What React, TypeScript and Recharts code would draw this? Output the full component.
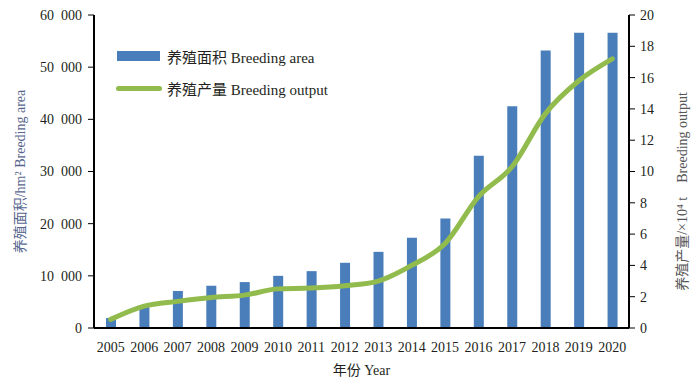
import { Bar, ComposedChart, Legend, Line, XAxis, YAxis } from 'recharts';

const years = ['2005', '2006', '2007', '2008', '2009', '2010', '2011', '2012', '2013', '2014', '2015', '2016', '2017', '2018', '2019', '2020'];
const areaValues = [1900, 4100, 7100, 8100, 8800, 10000, 10900, 12500, 14600, 17300, 21000, 33000, 42500, 53200, 56600, 56600];
const outputValues = [0.55, 1.4, 1.7, 1.95, 2.1, 2.5, 2.55, 2.7, 3.0, 4.0, 5.4, 8.4, 10.3, 13.7, 15.8, 17.2];
const areaTicks = [0, 10000, 20000, 30000, 40000, 50000, 60000];
const outputTicks = [0, 2, 4, 6, 8, 10, 12, 14, 16, 18, 20];

const data = years.map((year, i) => ({ year, area: areaValues[i], output: outputValues[i] }));

const font = "'Liberation Serif', 'Times New Roman', 'Noto Sans CJK SC', serif";
const barColor = '#4a7ebb';
const lineColor = '#92bb4d';
const ink = '#231f20';

const fmtArea = (v: number) => (v === 0 ? '0' : `${v / 1000}\u2002000`);

function LegendBox(props: any) {
  const items = [...(props.payload || [])].sort((a: any, b: any) => (a.type === 'line' ? 1 : 0) - (b.type === 'line' ? 1 : 0));
  return (
    <div style={{ fontFamily: font, fontSize: 15, color: ink }}>
      {items.map((entry: any, i: number) => (
        <div key={i} style={{ display: 'flex', alignItems: 'center', height: 32 }}>
          {entry.type === 'line' ? (
            <div style={{ width: 46, height: 5, borderRadius: 3, background: lineColor, marginRight: 5 }} />
          ) : (
            <div style={{ width: 43, height: 10, background: barColor, marginLeft: 1, marginRight: 7 }} />
          )}
          <span>{entry.value}</span>
        </div>
      ))}
    </div>
  );
}

function RotTitle({ x, y, text, color }: { x: number; y: number; text: string; color: string }) {
  return (
    <text
      x={x}
      y={y}
      transform={`rotate(-90, ${x}, ${y})`}
      textAnchor="middle"
      dominantBaseline="central"
      fill={color}
      fontSize={14}
      fontFamily={font}
    >
      {text}
    </text>
  );
}

export default function App() {
  return (
    <div style={{ position: 'absolute', left: 0, top: 0, width: 700, height: 381, background: '#fff' }}>
      <ComposedChart
        width={700}
        height={381}
        data={data}
        margin={{ top: 15, right: 0, bottom: 0, left: 0 }}
        barCategoryGap={0}
        style={{ fontFamily: font }}
      >
        <XAxis
          dataKey="year"
          height={53}
          tickLine={false}
          tickSize={0}
          tickMargin={14}
          interval={0}
          axisLine={{ stroke: '#000', strokeWidth: 2 }}
          tick={{ fill: ink, fontSize: 14, fontFamily: font }}
          label={{
            content: (p: any) => {
              const vb = p.viewBox || { x: 94, y: 328, width: 535 };
              return (
                <text x={vb.x + vb.width / 2} y={vb.y + 47} textAnchor="middle" fill={ink} fontSize={14} fontFamily={font}>
                  年份 Year
                </text>
              );
            },
          }}
        />
        <YAxis
          yAxisId="left"
          width={94}
          domain={[0, 60000]}
          ticks={areaTicks}
          tickFormatter={fmtArea}
          tickSize={6}
          tickMargin={6}
          axisLine={{ stroke: '#000', strokeWidth: 2 }}
          tickLine={{ stroke: '#000' }}
          tick={{ fill: ink, fontSize: 14, fontFamily: font }}
          label={{
            content: (p: any) => {
              const vb = p.viewBox || { x: 0, y: 15, height: 313 };
              return <RotTitle x={20} y={vb.y + vb.height / 2} text="养殖面积/hm² Breeding area" color="#56668e" />;
            },
          }}
        />
        <YAxis
          yAxisId="right"
          orientation="right"
          width={71}
          domain={[0, 20]}
          ticks={outputTicks}
          tickSize={6}
          tickMargin={5}
          axisLine={{ stroke: '#000', strokeWidth: 2 }}
          tickLine={{ stroke: '#000' }}
          tick={{ fill: ink, fontSize: 14, fontFamily: font }}
          label={{
            content: (p: any) => {
              const vb = p.viewBox || { x: 629, y: 15, height: 313 };
              return <RotTitle x={682} y={vb.y + vb.height / 2 + 20} text={'养殖产量/×10⁴ t\u2003Breeding output'} color="#555" />;
            },
          }}
        />
        <Legend
          layout="horizontal"
          verticalAlign="middle"
          wrapperStyle={{ left: 116, top: 40, width: 280 }}
          content={<LegendBox />}
        />
        <Bar yAxisId="left" dataKey="area" name="养殖面积 Breeding area" fill={barColor} barSize={10} isAnimationActive={false} />
        <Line
          yAxisId="right"
          dataKey="output"
          name="养殖产量 Breeding output"
          type="monotone"
          stroke={lineColor}
          strokeWidth={5}
          strokeLinecap="round"
          dot={false}
          activeDot={false}
          isAnimationActive={false}
        />
      </ComposedChart>
    </div>
  );
}
